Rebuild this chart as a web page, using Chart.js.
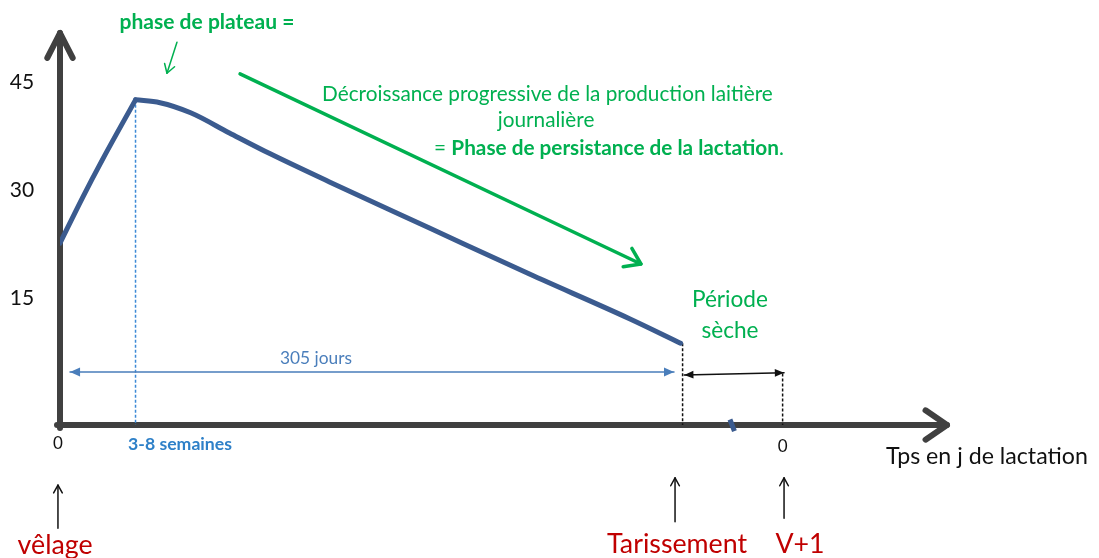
<!DOCTYPE html>
<html lang="fr">
<head>
<meta charset="utf-8">
<title>Courbe de lactation</title>
<script src="https://cdn.jsdelivr.net/npm/chart.js@4.4.1/dist/chart.umd.min.js"></script>
<style>
    html, body { margin: 0; padding: 0; background: #fff; }
    #wrap { width: 1099px; height: 558px; }
</style>
</head>
<body>
<div id="wrap"><canvas id="lactationChart"></canvas></div>
<script>
// jours de lactation / production laitière (kg/j)
const days = [0, 11, 21, 37, 49, 64, 83, 103, 132, 181, 230, 279, 304];
const milk = [22.9, 29.2, 34.6, 42.8, 42.4, 41.0, 38.2, 35.3, 31.4, 25.0, 18.6, 12.4, 9.0];
const yTicks = [15, 30, 45];
const peakIndex = 3;
const dryOffDay = 305;
const nextCalvingDay = 354;

const FONT = 'Lato, "Open Sans", sans-serif';
const GREEN = '#00b050';
const CURVE_BLUE = '#3b5b8f';
const LIGHT_BLUE = '#3d8ad6';
const RED = '#c00000';
const AXIS = '#404040';

let lactationChart = null;

function arrowHead(ctx, fx, fy, tx, ty, len, angle, filled) {
    const a = Math.atan2(ty - fy, tx - fx);
    ctx.beginPath();
    ctx.moveTo(tx - len * Math.cos(a - angle), ty - len * Math.sin(a - angle));
    ctx.lineTo(tx, ty);
    ctx.lineTo(tx - len * Math.cos(a + angle), ty - len * Math.sin(a + angle));
    if (filled) {
        ctx.closePath();
        ctx.fill();
    } else {
        ctx.stroke();
    }
}

function arrow(ctx, p1, p2, opts) {
    ctx.save();
    ctx.strokeStyle = opts.color;
    ctx.fillStyle = opts.color;
    ctx.lineWidth = opts.width;
    ctx.lineCap = 'round';
    ctx.lineJoin = 'round';
    ctx.beginPath();
    ctx.moveTo(p1[0], p1[1]);
    ctx.lineTo(p2[0], p2[1]);
    ctx.stroke();
    arrowHead(ctx, p1[0], p1[1], p2[0], p2[1], opts.len, opts.angle, opts.filled);
    if (opts.both) {
        arrowHead(ctx, p2[0], p2[1], p1[0], p1[1], opts.len, opts.angle, opts.filled);
    }
    ctx.restore();
}

function dashed(ctx, p1, p2, color) {
    ctx.save();
    ctx.strokeStyle = color;
    ctx.lineWidth = 1.5;
    ctx.setLineDash([3, 2]);
    ctx.beginPath();
    ctx.moveTo(p1[0], p1[1]);
    ctx.lineTo(p2[0], p2[1]);
    ctx.stroke();
    ctx.restore();
}

// texte ajusté sur une largeur donnée
function fitText(ctx, text, p, width, weight, color, baseline = 'middle') {
    ctx.font = `${weight} 20px ${FONT}`;
    const size = 20 * width / ctx.measureText(text).width;
    ctx.font = `${weight} ${size}px ${FONT}`;
    ctx.fillStyle = color;
    ctx.textAlign = 'center';
    ctx.textBaseline = baseline;
    ctx.fillText(text, p[0], p[1]);
    return size;
}

const diagramPlugin = {
    id: 'diagram',
    beforeDatasetsDraw(chart) {
        const ctx = chart.ctx;
        const x = chart.scales.x;
        const y = chart.scales.y;
        const at = (d, v) => [x.getPixelForValue(d), y.getPixelForValue(v)];
        const area = chart.chartArea;

        // axes
        arrow(ctx, [area.left, area.bottom + 3], [area.left, area.top + 3],
            { color: AXIS, width: 6, len: 28, angle: 0.47 });
        arrow(ctx, [area.left - 3, area.bottom], [area.right - 3, area.bottom],
            { color: AXIS, width: 6, len: 26, angle: 0.6 });

        // pointillés
        dashed(ctx, at(days[peakIndex], milk[peakIndex]), at(days[peakIndex], y.min), LIGHT_BLUE);
        dashed(ctx, at(dryOffDay, milk[milk.length - 1]), at(dryOffDay, y.min), '#111');
        dashed(ctx, at(nextCalvingDay, 4.8), at(nextCalvingDay, y.min), '#111');
    },
    afterDatasetsDraw(chart) {
        const ctx = chart.ctx;
        const x = chart.scales.x;
        const y = chart.scales.y;
        const at = (d, v) => [x.getPixelForValue(d), y.getPixelForValue(v)];

        // graduations
        ctx.save();
        ctx.font = `21px ${FONT}`;
        ctx.fillStyle = '#111';
        ctx.textAlign = 'right';
        ctx.textBaseline = 'middle';
        yTicks.forEach(t => ctx.fillText(String(t), x.getPixelForValue(-12.7), y.getPixelForValue(t) - 2));
        ctx.textAlign = 'center';
        ctx.font = `17px ${FONT}`;
        ctx.fillText('0', ...at(-1, -5.0));
        ctx.fillText('0', ...at(nextCalvingDay, -5.4));
        fitText(ctx, 'Tps en j de lactation', at(454.1, -6.7), 202, 'normal', '#111');

        // petite marque bleue sur l'axe
        ctx.strokeStyle = CURVE_BLUE;
        ctx.lineWidth = 5;
        ctx.beginPath();
        ctx.moveTo(...at(328.2, -1.6));
        ctx.lineTo(...at(330.4, -3.2));
        ctx.stroke();
        ctx.restore();

        // flèches
        arrow(ctx, at(4.9, 5.0), at(300.8, 5.0),
            { color: '#4a7ebb', width: 1.5, len: 11, angle: 0.42, filled: true, both: true });
        arrow(ctx, at(305.8, 4.6), at(354.7, 4.9),
            { color: '#111', width: 1.5, len: 10, angle: 0.4, filled: true, both: true });
        arrow(ctx, at(88.2, 46.4), at(284.6, 20.0),
            { color: GREEN, width: 3.5, len: 18, angle: 0.6 });
        arrow(ctx, at(57.3, 50.8), at(52.4, 46.5),
            { color: GREEN, width: 1.5, len: 10, angle: 0.55 });
        [[-1.0, -16.7, -10.7], [301.3, -15.8, -9.7], [354.7, -15.3, -9.7]].forEach(a => {
            arrow(ctx, at(a[0], a[1]), at(a[0], a[2]),
                { color: '#111', width: 1.5, len: 9, angle: 0.5 });
        });

        // textes
        ctx.save();
        fitText(ctx, 'phase de plateau =', at(72.0, 53.6), 175, 'bold', GREEN);
        const s = fitText(ctx, 'Décroissance progressive de la production laitière', at(238.8, 43.6), 451, 'normal', GREEN);
        ctx.font = `normal ${s}px ${FONT}`;
        ctx.fillText('journalière', ...at(238.1, 39.9));

        const parts = [['= ', 'normal'], ['Phase de persistance de la lactation', 'bold'], ['.', 'normal']];
        let total = 0;
        parts.forEach(p => { ctx.font = `${p[1]} ${s}px ${FONT}`; total += ctx.measureText(p[0]).width; });
        const c = at(268.9, 36.0);
        let cx = c[0] - total / 2;
        ctx.textAlign = 'left';
        parts.forEach(p => {
            ctx.font = `${p[1]} ${s}px ${FONT}`;
            ctx.fillText(p[0], cx, c[1]);
            cx += ctx.measureText(p[0]).width;
        });

        const ps = fitText(ctx, 'Période', at(328.2, 15.0), 76, 'normal', GREEN);
        ctx.font = `normal ${ps}px ${FONT}`;
        ctx.textAlign = 'center';
        ctx.fillText('sèche', ...at(328.2, 10.8));

        fitText(ctx, '305 jours', at(125.4, 6.9), 72, 'normal', '#4a7ebb');
        fitText(ctx, '3-8 semaines', at(58.8, -5.1), 104, 'bold', '#2e80c8');

        const rs = fitText(ctx, 'Tarissement', at(302.3, -20.1), 140, 'normal', RED, 'alphabetic');
        ctx.font = `normal ${rs}px ${FONT}`;
        ctx.fillText('vêlage', ...at(-2.4, -20.3));
        ctx.fillText('V+1', ...at(362.5, -20.1));
        ctx.restore();
    }
};

const toPoints = (from, to) => days.slice(from, to).map((d, i) => ({ x: d, y: milk[from + i] }));

const ctx = document.getElementById('lactationChart').getContext('2d');
lactationChart = new Chart(ctx, {
    type: 'line',
    data: {
        datasets: [{
            // montée de lactation
            label: 'Montée',
            data: toPoints(0, peakIndex + 1),
            borderColor: CURVE_BLUE,
            borderWidth: 5,
            borderCapStyle: 'round',
            borderJoinStyle: 'round',
            pointRadius: 0,
            cubicInterpolationMode: 'monotone',
            fill: false
        }, {
            // décroissance après le pic
            label: 'Persistance',
            data: toPoints(peakIndex),
            borderColor: CURVE_BLUE,
            borderWidth: 5,
            borderCapStyle: 'round',
            borderJoinStyle: 'round',
            pointRadius: 0,
            cubicInterpolationMode: 'monotone',
            fill: false
        }]
    },
    options: {
        responsive: true,
        maintainAspectRatio: false,
        animation: false,
        layout: {
            padding: { left: 60, top: 30, right: 149, bottom: 133 }
        },
        scales: {
            x: { type: 'linear', min: 0, max: 436, display: false },
            y: { min: -2.36, max: 52.5, display: false }
        },
        plugins: {
            legend: { display: false },
            tooltip: { enabled: false }
        }
    },
    plugins: [diagramPlugin]
});
</script>
</body>
</html>
